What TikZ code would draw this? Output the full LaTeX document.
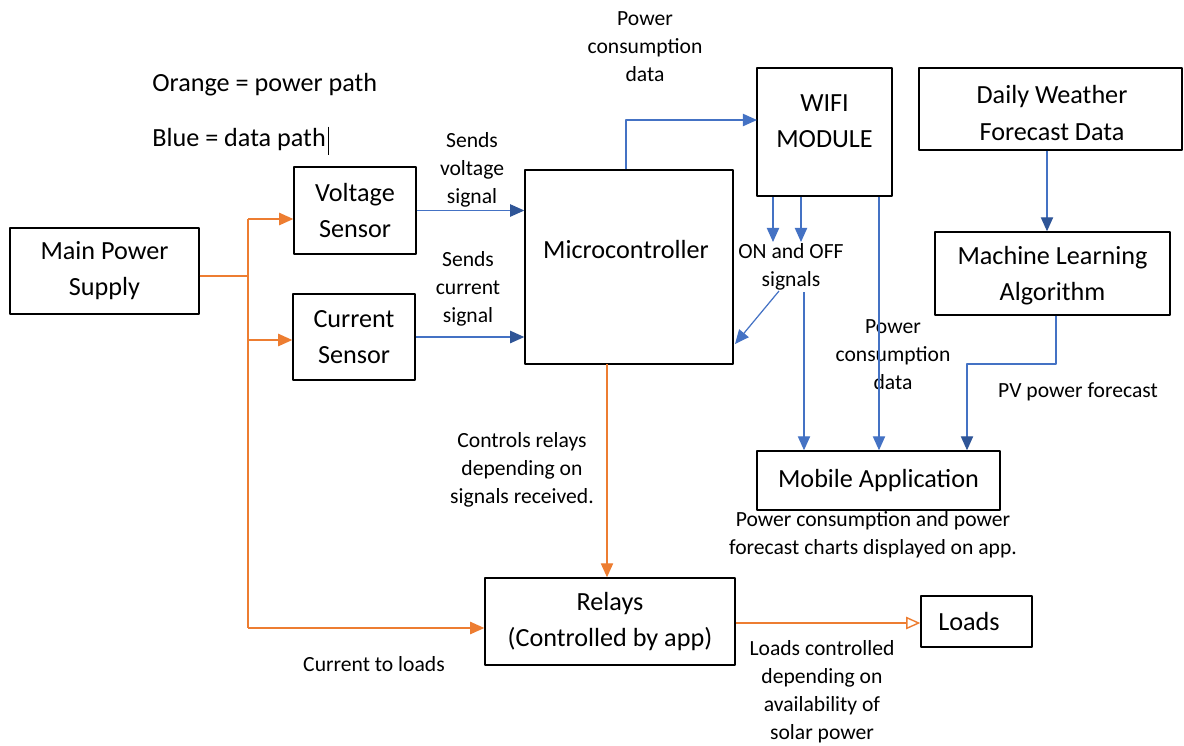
\documentclass[tikz,border=0pt]{standalone}
\usepackage{fontspec}
\setmainfont{Carlito}
\usetikzlibrary{arrows.meta}
\definecolor{pwr}{HTML}{ED7D31}
\definecolor{dat}{HTML}{4472C4}
\definecolor{datdk}{HTML}{2F5597}
\newcommand{\bigfont}{\fontsize{14.9}{20.5}\selectfont}
\newcommand{\smallfont}{\fontsize{12.3}{15.9}\selectfont}
\begin{document}
\begin{tikzpicture}[x=0.02cm, y=-0.02cm, line join=round, >={Triangle[length=8pt,width=7pt]},
  box/.style={draw, line width=0.8pt, align=center, inner sep=0pt, font=\bigfont},
  lbl/.style={align=center, inner sep=0pt, font=\smallfont},
  pw/.style={draw=pwr, line width=0.8pt},
  dt/.style={draw=dat, line width=0.7pt},
  dk/.style={-{Triangle[length=8pt,width=7pt,color=datdk]}},
  opn/.style={-{Triangle[open,length=8pt,width=7pt]}}]
\useasboundingbox (0,0) rectangle (1184,745);
% blocks
\node[box, minimum width=189*0.02cm, minimum height=86*0.02cm] (supply) at (104.5,271) {Main Power\\Supply};
\node[box, minimum width=122*0.02cm, minimum height=87*0.02cm] (vsens) at (355,210.5) {Voltage\\Sensor};
\node[box, minimum width=122*0.02cm, minimum height=86*0.02cm] (csens) at (354,337) {Current\\Sensor};
\node[box, minimum width=208*0.02cm, minimum height=194*0.02cm] (micro) at (629,267) {};
\node[font=\bigfont, inner sep=0pt] (microtxt) at (626,249) {Microcontroller};
\node[box, line width=1.5pt, minimum width=135*0.02cm, minimum height=128*0.02cm] (wifi) at (824.5,132) {};
\node[font=\bigfont, align=center, inner sep=0pt] (wifitxt) at (824.5,121) {WIFI\\MODULE};
\node[box, minimum width=263*0.02cm, minimum height=82*0.02cm] (weather) at (1050.5,109) {};
\node[font=\bigfont, align=center, inner sep=0pt] (weathertxt) at (1052,113) {Daily Weather\\Forecast Data};
\node[box, minimum width=235*0.02cm, minimum height=83*0.02cm] (ml) at (1052.5,273.5) {};
\node[font=\bigfont, align=center, inner sep=0pt] (mltxt) at (1052.5,276) {Machine Learning\\Algorithm};
\node[box, minimum width=243*0.02cm, minimum height=59*0.02cm] (mobile) at (878.5,480.5) {Mobile Application};
\node[box, minimum width=250*0.02cm, minimum height=87*0.02cm] (relay) at (610,621.5) {Relays\\(Controlled by app)};
\node[box, minimum width=111*0.02cm, minimum height=51*0.02cm] (loads) at (976.5,621.5) {Loads\hspace*{0.3cm}};
% legend
\node[font=\bigfont, inner sep=0pt, anchor=west] (leg1) at (152,85) {Orange = power path};
\node[font=\bigfont, inner sep=0pt, anchor=west] (leg2) at (152,140) {Blue = data path};
\draw[line width=0.6pt] ([xshift=1.5pt,yshift=1pt]leg2.north east) -- ([xshift=1.5pt,yshift=-2pt]leg2.south east);
% labels
\node[lbl] (pcd1) at (645,47) {Power\\consumption\\data};
\node[lbl] (sv) at (472,170) {Sends\\voltage\\signal};
\node[lbl] (sc) at (468,289) {Sends\\current\\signal};
\node[lbl] (onoff) at (791,267) {ON and OFF\\signals};
\node[lbl] (pcd2) at (893,355) {Power\\consumption\\data};
\node[lbl] (pvf) at (1078,392) {PV power forecast};
\node[lbl] (ctl) at (522,470) {Controls relays\\depending on\\signals received.};
\node[lbl] (chart) at (873,535) {Power consumption and power\\forecast charts displayed on app.};
\node[lbl] (cur) at (374,664) {Current to loads};
\node[lbl] (lc) at (822,692) {Loads controlled\\depending on\\availability of\\solar power};
% power path
\coordinate (bs) at (248,276);
\coordinate (bv) at (248,219);
\coordinate (bc) at (248,340);
\coordinate (br) at (248,628);
\coordinate (mr) at (607,364);
\coordinate (rl) at (0,623);
\draw[pw] (supply.east |- bs) -- (bs);
\draw[pw] (bv) -- (br);
\draw[pw,->] (bv) -- (vsens.west |- bv);
\draw[pw,->] (bc) -- (csens.west |- bc);
\draw[pw,->] (br) -- (relay.west |- br);
\draw[pw,->] (mr) -- (relay.north -| mr);
\draw[pw,opn] (relay.east |- rl) -- (loads.west |- rl);
% data path
\coordinate (wa) at (757,120);
\coordinate (w1) at (773,242);
\coordinate (w2) at (801,242);
\coordinate (d1) at (779,291);
\coordinate (d2) at (735,344);
\coordinate (s1) at (804,292);
\coordinate (s2) at (879,0);
\coordinate (m1) at (1056,364);
\coordinate (m2) at (967,364);
\draw[dt,dk] (vsens.east) -- (micro.west |- vsens.east);
\draw[dt,dk] (csens.east) -- (micro.west |- csens.east);
\draw[dt,->] (micro.north -| 626,0) |- (wa);
\draw[dt,->] (wifi.south -| w1) -- (w1);
\draw[dt,->] (wifi.south -| w2) -- (w2);
\draw[dt,->] (d1) -- (d2);
\draw[dt,->] (s1) -- (mobile.north -| s1);
\draw[dt,->] (wifi.south -| s2) -- (mobile.north -| s2);
\draw[dt,dk] (weather.south -| 1047,0) -- (ml.north -| 1047,0);
\draw[dt,dk] (ml.south -| m1) -- (m1) -- (m2) -- (mobile.north -| m2);
\end{tikzpicture}
\end{document}
